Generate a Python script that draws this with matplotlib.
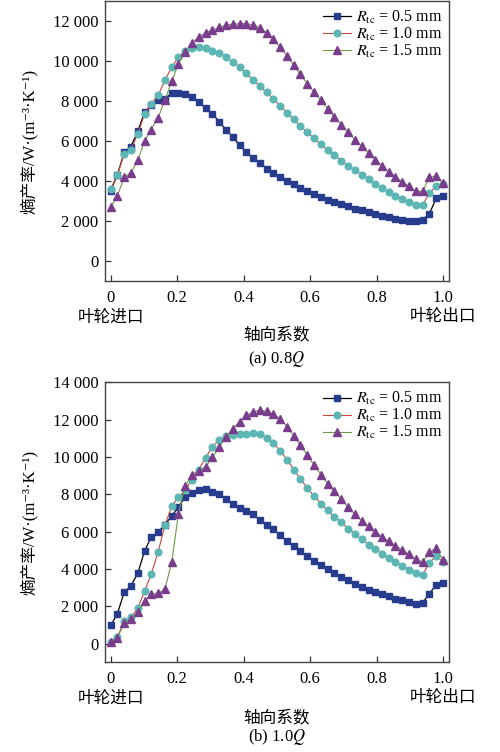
import matplotlib
matplotlib.use('Agg')
import matplotlib.pyplot as plt
from matplotlib.ticker import FuncFormatter
from matplotlib.transforms import blended_transform_factory

plt.rcParams['font.family'] = ['Liberation Serif', 'Noto Sans CJK SC', 'DejaVu Serif']
plt.rcParams['mathtext.fontset'] = 'stix'
plt.rcParams['font.size'] = 12

# axial coefficient, 50 stations from impeller inlet to outlet
x = [0.000, 0.020, 0.041, 0.061, 0.082, 0.102, 0.122, 0.143, 0.163, 0.184,
     0.204, 0.224, 0.245, 0.265, 0.286, 0.306, 0.327, 0.347, 0.367, 0.388,
     0.408, 0.429, 0.449, 0.469, 0.490, 0.510, 0.531, 0.551, 0.571, 0.592,
     0.612, 0.633, 0.653, 0.673, 0.694, 0.714, 0.735, 0.755, 0.776, 0.796,
     0.816, 0.837, 0.857, 0.878, 0.898, 0.918, 0.939, 0.959, 0.980, 1.000]

# (a) 0.8Q
a_r05 = [3535, 4300, 5450, 5735, 6500, 7450, 7800, 8050, 8120, 8400,
         8420, 8370, 8200, 7970, 7650, 7370, 6970, 6585, 6220, 5800,
         5450, 5170, 4920, 4635, 4420, 4200, 4035, 3870, 3670, 3500,
         3385, 3220, 3085, 2970, 2870, 2750, 2635, 2550, 2470, 2370,
         2285, 2200, 2120, 2085, 2035, 2035, 2085, 2385, 3170, 3250]
a_r10 = [3620, 4300, 5370, 5570, 6370, 7350, 7870, 8285, 9035, 9700,
         10200, 10500, 10670, 10700, 10650, 10520, 10400, 10200, 9950, 9700,
         9385, 9070, 8750, 8435, 8120, 7770, 7420, 7085, 6750, 6450,
         6140, 5850, 5570, 5310, 5035, 4785, 4550, 4335, 4120, 3885,
         3670, 3450, 3285, 3135, 2970, 2835, 2820, 3420, 3750, 3870]
a_r15 = [2720, 3250, 4220, 4420, 5050, 6000, 6585, 7170, 8050, 9000,
         9870, 10470, 10920, 11200, 11420, 11540, 11680, 11800, 11835, 11870,
         11870, 11800, 11670, 11420, 11085, 10700, 10250, 9785, 9335, 8870,
         8450, 8050, 7620, 7200, 6820, 6450, 6085, 5750, 5420, 5085,
         4785, 4470, 4220, 3970, 3750, 3500, 3500, 4200, 4285, 3920]

# (b) 1.0Q
b_r05 = [980, 1570, 2770, 3090, 3785, 4950, 5715, 5965, 6380, 6830,
         7340, 7840, 8095, 8255, 8270, 8140, 7990, 7770, 7500, 7290,
         7090, 6930, 6620, 6380, 6120, 5805, 5490, 5215, 4950, 4680,
         4420, 4210, 3990, 3795, 3570, 3395, 3215, 3035, 2895, 2770,
         2645, 2535, 2410, 2320, 2230, 2110, 2190, 2680, 3160, 3230]
b_r10 = [100, 350, 1200, 1410, 1910, 2810, 3715, 4910, 6340, 7360,
         7860, 8220, 8790, 9325, 9970, 10540, 10935, 11110, 11200, 11220,
         11255, 11290, 11255, 11040, 10750, 10325, 9860, 9325, 8810, 8340,
         7895, 7500, 7145, 6785, 6520, 6160, 5895, 5590, 5305, 5055,
         4825, 4610, 4375, 4160, 3965, 3785, 3680, 4340, 4700, 4375]
b_r15 = [80, 300, 1090, 1330, 1700, 2260, 2640, 2700, 2900, 4375,
         6970, 8420, 9060, 9270, 9470, 9980, 10540, 11060, 11525, 11880,
         12235, 12415, 12505, 12450, 12290, 12060, 11610, 11130, 10630, 10095,
         9555, 9060, 8575, 8160, 7740, 7310, 6920, 6590, 6290, 5980,
         5735, 5480, 5225, 5000, 4780, 4530, 4375, 4890, 5130, 4465]

labels = [r'$R_{\mathrm{tc}}$ = 0.5 mm', r'$R_{\mathrm{tc}}$ = 1.0 mm', r'$R_{\mathrm{tc}}$ = 1.5 mm']
xticks = [0, 0.2, 0.4, 0.6, 0.8, 1.0]
xticklabels = ['0', '0.2', '0.4', '0.6', '0.8', '1.0']

styles = [
    dict(color='black', marker='s', ms=4.3, mfc='#283c8e', mec='#283c8e', lw=0.9),
    dict(color='#c8473c', marker='o', ms=4.8, mfc='#5cb6b4', mec='#5cb6b4', lw=0.8),
    dict(color='#6c9a46', marker='^', ms=5.6, mfc='#7a3c8c', mec='#7a3c8c', lw=0.8),
]

def fmt(v, pos):
    v = int(round(v))
    if abs(v) >= 1000:
        return '{:,}'.format(v).replace(',', ' ')
    return str(v)

fig = plt.figure(figsize=(5.0, 7.52), dpi=100)
ax_a = fig.add_axes([0.2106, 0.6257, 0.6874, 0.3730])
ax_b = fig.add_axes([0.2106, 0.1193, 0.6874, 0.3723])

panels = [
    (ax_a, [a_r05, a_r10, a_r15], 13000, range(0, 12001, 2000), '(a) 0.8$Q$', [36, 53.5, 77.5]),
    (ax_b, [b_r05, b_r10, b_r15], 14000, range(0, 14001, 2000), '(b) 1.0$Q$', [36, 55.5, 74.5]),
]

for ax, series, ytop, yt, title, offs in panels:
    for ys, st, lab in zip(series, styles, labels):
        ax.plot(x, ys, label=lab, **st)
    ax.set_xlim(-0.016, 1.018)
    ax.set_ylim(-1000, ytop)
    ax.set_xticks(xticks)
    ax.set_xticklabels(xticklabels)
    ax.set_yticks(list(yt))
    ax.yaxis.set_major_formatter(FuncFormatter(fmt))
    ax.tick_params(direction='in', length=4, width=0.9, color='#333333', labelsize=12)
    ax.tick_params(axis='y', pad=5)
    ax.tick_params(axis='x', pad=6)
    for sp in ax.spines.values():
        sp.set_color('#444444')
        sp.set_linewidth(1.0)
    ax.set_ylabel('熵产率/W·(m⁻³·K⁻¹)', fontsize=12)
    ax.yaxis.set_label_coords(-0.195, 0.5)
    ax.legend(loc='upper right', bbox_to_anchor=(1.0, 0.995), frameon=False,
              fontsize=11.5, labelspacing=0.0, handlelength=1.8, handletextpad=0.3,
              borderaxespad=0.0)
    h = ax.get_window_extent().height
    tr = blended_transform_factory(ax.transData, ax.transAxes)
    ax.text(0, -offs[0] / h, '叶轮进口', transform=tr, ha='center', va='center', fontsize=12)
    ax.text(1.0, -offs[0] / h, '叶轮出口', transform=tr, ha='center', va='center', fontsize=12)
    ax.text(0.5, -offs[1] / h, '轴向系数', transform=tr, ha='center', va='center', fontsize=12)
    ax.text(0.5, -offs[2] / h, title, transform=tr, ha='center', va='center', fontsize=12)

fig.savefig('out.png', dpi=100)
